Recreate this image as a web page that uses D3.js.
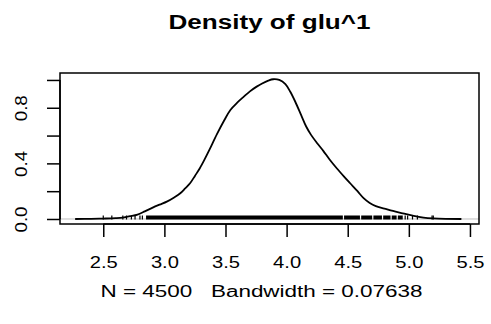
<!DOCTYPE html>
<html>
<head>
<meta charset="utf-8">
<script src="https://cdn.jsdelivr.net/npm/d3@7"></script>
<style>
html,body{margin:0;padding:0;background:#fff;}
svg{display:block;}
text{font-family:"Liberation Sans",Arial,Helvetica,sans-serif;fill:#000;}
</style>
</head>
<body>
<svg id="chart" width="491" height="324"></svg>
<script>
// ---- data ----
const densX = [2.27,2.40,2.50,2.60,2.66,2.72,2.78,2.84,2.90,2.96,3.02,3.08,3.13,3.17,3.21,3.25,3.29,3.33,3.37,3.43,3.49,3.54,3.60,3.65,3.70,3.755,3.80,3.85,3.89,3.94,3.99,4.03,4.07,4.12,4.16,4.20,4.25,4.30,4.35,4.41,4.47,4.52,4.58,4.63,4.68,4.73,4.80,4.87,4.95,5.04,5.12,5.20,5.30,5.43];
const densY = [0.000,0.001,0.003,0.006,0.010,0.020,0.032,0.055,0.080,0.103,0.125,0.155,0.185,0.220,0.257,0.310,0.365,0.430,0.500,0.610,0.710,0.784,0.840,0.880,0.918,0.952,0.975,0.995,1.005,1.000,0.970,0.915,0.845,0.745,0.665,0.605,0.545,0.490,0.430,0.365,0.305,0.257,0.200,0.150,0.115,0.092,0.075,0.058,0.041,0.022,0.010,0.004,0.001,0.000];
const rugTicks = [2.50,2.57,2.66,2.69,2.73,2.76,2.80,2.82,4.97,4.99,5.03,5.07,5.19,5.20];
const rugRuns = [[2.85,4.46],[4.47,4.60],[4.61,4.70],[4.71,4.78],[4.79,4.85],[4.86,4.90],[4.91,4.95]];
const xTicks = [2.5,3.0,3.5,4.0,4.5,5.0,5.5];
const xTickLabels = ["2.5","3.0","3.5","4.0","4.5","5.0","5.5"];
const yTicks = [0,0.2,0.4,0.6,0.8,1.0];
const yTickLabels = ["0.0","","0.4","","0.8",""];
const titleText = "Density of glu^1";
const subText = "N = 4500   Bandwidth = 0.07638";

// ---- layout ----
const L = 60, R = 479, T = 73, B = 224;
const svg = d3.select("#chart");
const x = d3.scaleLinear().domain([2.146, 5.574]).range([L, R]);
const y = d3.scaleLinear().domain([-0.036, 1.050]).range([B, T]);

// zero line
svg.append("line").attr("x1", L).attr("x2", R).attr("y1", y(0)).attr("y2", y(0))
  .attr("stroke", "#bebebe").attr("stroke-width", 1);

// rug
const rugTop = y(0) - 3.5, rugBot = y(0) + 0.5;
svg.append("g").selectAll("rect").data(rugRuns).join("rect")
  .attr("x", d => x(d[0])).attr("width", d => x(d[1]) - x(d[0]))
  .attr("y", rugTop).attr("height", rugBot - rugTop).attr("fill", "#000");
svg.append("g").selectAll("line").data(rugTicks).join("line")
  .attr("x1", d => x(d)).attr("x2", d => x(d))
  .attr("y1", rugTop).attr("y2", rugBot)
  .attr("stroke", "#000").attr("stroke-width", 1.2);

// density curve
const pts = densX.map((v, i) => [v, densY[i]]);
svg.append("path").datum(pts)
  .attr("d", d3.line().x(d => x(d[0])).y(d => y(d[1])).curve(d3.curveCatmullRom.alpha(0.5)))
  .attr("fill", "none").attr("stroke", "#000").attr("stroke-width", 1.8)
  .attr("stroke-linejoin", "round");

// box
svg.append("rect").attr("x", L).attr("y", T).attr("width", R - L).attr("height", B - T)
  .attr("fill", "none").attr("stroke", "#000").attr("stroke-width", 1.5);

// x axis
const xa = svg.append("g").attr("transform", `translate(0,${B})`)
  .call(d3.axisBottom(x).tickValues(xTicks).tickSize(13).tickSizeOuter(0)
    .tickFormat((d, i) => xTickLabels[i]));
xa.select(".domain").attr("d", `M${x(xTicks[0])},0H${x(xTicks[xTicks.length-1])}`).attr("stroke-width", 1.5);
xa.selectAll(".tick line").attr("stroke-width", 1.5);
xa.selectAll(".tick text").attr("y", 44).attr("dy", null)
  .attr("font-size", 16).attr("textLength", 28).attr("lengthAdjust", "spacingAndGlyphs")
  .style("font-family", '"Liberation Sans",Arial,sans-serif');

// y axis
const ya = svg.append("g").attr("transform", `translate(${L},0)`)
  .call(d3.axisLeft(y).tickValues(yTicks).tickSize(13).tickSizeOuter(0)
    .tickFormat((d, i) => yTickLabels[i]));
ya.select(".domain").attr("d", `M0,${y(yTicks[0])}V${y(yTicks[yTicks.length-1])}`).attr("stroke-width", 1.5);
ya.selectAll(".tick line").attr("stroke-width", 1.5);
ya.selectAll(".tick text")
  .attr("x", null).attr("dy", null).attr("text-anchor", "middle")
  .attr("transform", "translate(-33,0) rotate(-90)")
  .attr("y", 0)
  .attr("font-size", 16).attr("textLength", 26).attr("lengthAdjust", "spacingAndGlyphs")
  .style("font-family", '"Liberation Sans",Arial,sans-serif');
ya.selectAll(".tick text").filter((d, i) => yTickLabels[i] === "").remove();

// title & subtitle
svg.append("text").attr("x", (L + R) / 2).attr("y", 29).attr("text-anchor", "middle")
  .attr("font-size", 20).attr("font-weight", "bold")
  .attr("textLength", 202).attr("lengthAdjust", "spacingAndGlyphs").text(titleText);
svg.append("text").attr("x", (L + R) / 2 - 8).attr("y", 297).attr("text-anchor", "middle")
  .style("white-space", "pre").attr("xml:space", "preserve")
  .attr("font-size", 16).attr("textLength", 322).attr("lengthAdjust", "spacingAndGlyphs").text(subText);
</script>
</body>
</html>
